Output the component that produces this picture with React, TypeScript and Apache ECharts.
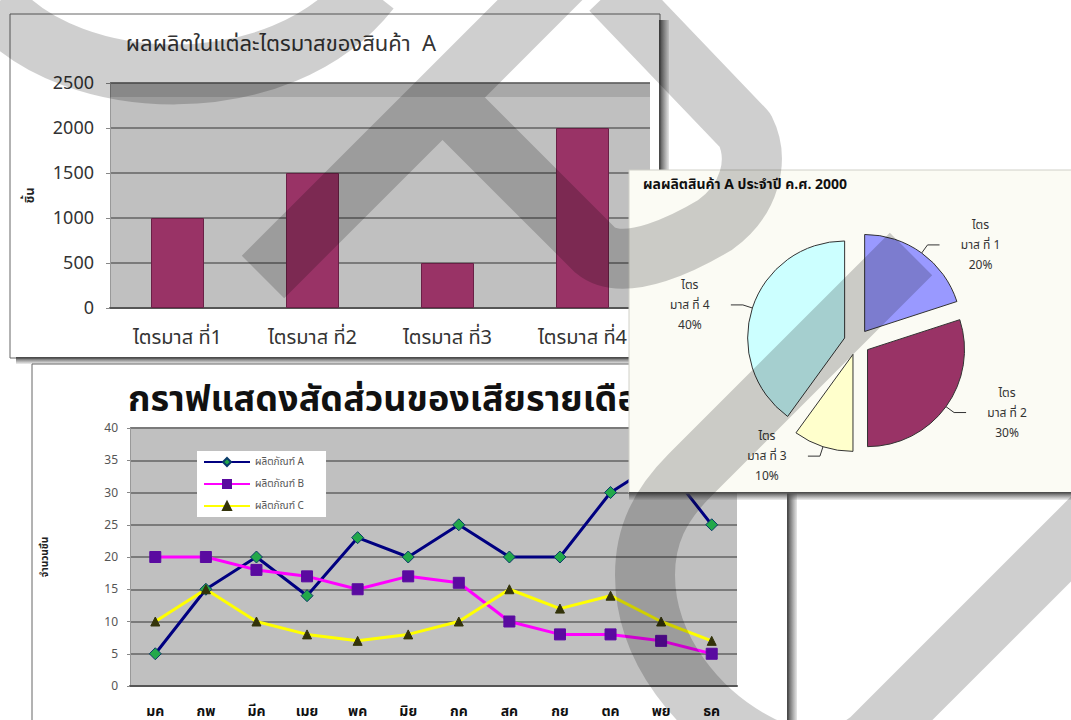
import { useEffect, useRef } from 'react';
import * as echarts from 'echarts';

// ---- data ----
const quarters = ['ไตรมาส ที่1', 'ไตรมาส ที่2', 'ไตรมาส ที่3', 'ไตรมาส ที่4'];
const production = [1000, 1500, 500, 2000];
const pieNames = ['ไตรมาส ที่ 1', 'ไตรมาส ที่ 2', 'ไตรมาส ที่ 3', 'ไตรมาส ที่ 4'];
const pieColors = ['#9999ff', '#993366', '#ffffcc', '#ccffff'];

const months = ['มค', 'กพ', 'มีค', 'เมย', 'พค', 'มิย', 'กค', 'สค', 'กย', 'ตค', 'พย', 'ธค'];
const productA = [5, 15, 20, 14, 23, 20, 25, 20, 20, 30, 35, 25];
const productB = [20, 20, 18, 17, 15, 17, 16, 10, 8, 8, 7, 5];
const productC = [10, 15, 10, 8, 7, 8, 10, 15, 12, 14, 10, 7];
const seriesNames = ['ผลิตภัณฑ์ A', 'ผลิตภัณฑ์ B', 'ผลิตภัณฑ์ C'];

const barTitle = 'ผลผลิตในแต่ละไตรมาสของสินค้า  A';
const lineTitle = 'กราฟแสดงสัดส่วนของเสียรายเดือน';
const pieTitle = 'ผลผลิตสินค้า A ประจำปี ค.ศ. 2000';

const FONT = "'Noto Sans Thai', Tahoma, 'DejaVu Sans', sans-serif";

const WATERMARK =
  'M -5 5 C 70 95 280 105 370 -10 ' +
  'M 263 277 L 590 -50 ' +
  'M 452 107 L 595 250 C 625 275 690 240 715 225 C 750 200 760 160 745 130 L 611 -10 ' +
  'M 911 254 L 690 475 C 660 505 645 535 645 575 C 645 650 700 715 760 745 C 800 765 830 770 870 740 L 1110 500';

export default function App() {
  const ref = useRef<HTMLDivElement>(null);
  useEffect(() => {
    if (!ref.current) return;
    try {
      echarts.graphic.registerShape('wm', echarts.graphic.extendPath(WATERMARK, {}));
    } catch (e) {
      /* ignore */
    }
    const chart = echarts.init(ref.current, null, { renderer: 'svg' });
    const shadowV = () =>
      new echarts.graphic.LinearGradient(0, 0, 1, 0, [
        { offset: 0, color: '#444' },
        { offset: 1, color: 'rgba(90,90,90,0.15)' },
      ]);
    const shadowH = () =>
      new echarts.graphic.LinearGradient(0, 0, 0, 1, [
        { offset: 0, color: '#444' },
        { offset: 1, color: 'rgba(90,90,90,0.1)' },
      ]);

    const option: any = {
      animation: false,
      backgroundColor: '#ffffff',
      textStyle: { fontFamily: FONT },
      legend: {
        data: seriesNames,
        left: 197,
        top: 451,
        orient: 'vertical',
        backgroundColor: '#ffffff',
        padding: [6, 22, 6, 6],
        itemGap: 12,
        itemWidth: 46,
        itemHeight: 10,
        textStyle: { fontSize: 10, color: '#555', fontFamily: FONT },
        z: 4,
      },
      grid: [
        {
          left: 110, top: 83, width: 540, height: 225,
          show: true, backgroundColor: '#c0c0c0', borderWidth: 0, z: 1,
        },
        {
          left: 130, top: 428, width: 607, height: 258,
          show: true, backgroundColor: '#c0c0c0', borderWidth: 0, z: 1,
        },
      ],
      xAxis: [
        {
          type: 'category', gridIndex: 0, data: quarters, z: 1,
          axisLine: { lineStyle: { color: '#555', width: 2 } },
          axisTick: { length: 5, lineStyle: { color: '#555' } },
          axisLabel: { fontSize: 20, color: '#333', margin: 20, fontFamily: FONT },
        },
        {
          type: 'category', gridIndex: 1, data: months, z: 1,
          axisLine: { lineStyle: { color: '#555', width: 2 } },
          axisTick: { length: 4, lineStyle: { color: '#555' } },
          axisLabel: { fontSize: 14, fontWeight: 'bold', color: '#111', margin: 18, fontFamily: FONT },
        },
      ],
      yAxis: [
        {
          type: 'value', gridIndex: 0, min: 0, max: 2500, interval: 500, z: 1,
          name: 'ชิ้น', nameLocation: 'middle', nameRotate: 90, nameGap: 74,
          nameTextStyle: { fontSize: 13, fontWeight: 'bold', color: '#222', fontFamily: FONT },
          axisLine: { show: true, lineStyle: { color: '#999' } },
          axisTick: { show: true, length: 4, lineStyle: { color: '#888' } },
          axisLabel: { fontSize: 18, color: '#333', margin: 16, formatter: (v: number) => String(v) },
          splitLine: { lineStyle: { color: '#7a7a7a', width: 2 } },
        },
        {
          type: 'value', gridIndex: 1, min: 0, max: 40, interval: 5, z: 1,
          name: 'จำนวนชิ้น', nameLocation: 'middle', nameRotate: 90, nameGap: 80,
          nameTextStyle: { fontSize: 10, fontWeight: 'bold', color: '#222', fontFamily: FONT },
          axisLine: { show: true, lineStyle: { color: '#999' } },
          axisTick: { show: true, length: 3, lineStyle: { color: '#888' } },
          axisLabel: { fontSize: 12, color: '#555', margin: 12 },
          splitLine: { lineStyle: { color: '#7a7a7a', width: 2 } },
        },
      ],
      series: [
        {
          type: 'bar', xAxisIndex: 0, yAxisIndex: 0, data: production, barWidth: 53, z: 2,
          itemStyle: { color: '#993366', borderColor: '#6a2046', borderWidth: 1 },
        },
        {
          name: seriesNames[0], type: 'line', xAxisIndex: 1, yAxisIndex: 1, data: productA, z: 3,
          symbol: 'diamond', symbolSize: 12,
          lineStyle: { color: '#000080', width: 3 },
          itemStyle: { color: '#22a84a', borderColor: '#0a3a6a', borderWidth: 1 },
        },
        {
          name: seriesNames[1], type: 'line', xAxisIndex: 1, yAxisIndex: 1, data: productB, z: 3,
          symbol: 'rect', symbolSize: 11,
          lineStyle: { color: '#ff00ff', width: 3 },
          itemStyle: { color: '#5a0aa0', borderColor: '#5a0aa0', borderWidth: 1 },
        },
        {
          name: seriesNames[2], type: 'line', xAxisIndex: 1, yAxisIndex: 1, data: productC, z: 3,
          symbol: 'triangle', symbolSize: 9,
          lineStyle: { color: '#ffff00', width: 3 },
          itemStyle: { color: '#33330a', borderColor: '#33330a', borderWidth: 1 },
        },
        {
          type: 'pie', z: 12,
          center: [857, 342], radius: 97,
          startAngle: 90, clockwise: true,
          selectedMode: 'multiple', selectedOffset: 13,
          data: production.map((v, i) => ({
            name: pieNames[i], value: v, selected: true,
            itemStyle: { color: pieColors[i] },
          })),
          itemStyle: { borderColor: '#333', borderWidth: 1 },
          emphasis: { disabled: true },
          label: {
            show: true, position: 'outside', color: '#333', fontFamily: FONT,
            formatter: (p: any) =>
              '{c|ไตร}\n{c|' + p.name.slice(3) + '}\n{c|' + Math.round(p.percent) + '%}',
            rich: {
              c: { width: 72, align: 'center', fontSize: 12, lineHeight: 20, color: '#333', fontFamily: FONT },
            },
          },
          labelLine: { show: true, length: 10, length2: 12, lineStyle: { color: '#333', width: 1 } },
        },
      ],
      graphic: [
        // bar chart panel
        { type: 'rect', z: -5, silent: true, shape: { x: 10, y: 14, width: 650, height: 344 }, style: { fill: '#fff', stroke: '#666', lineWidth: 1 } },
        { type: 'rect', z: -4, silent: true, shape: { x: 659, y: 20, width: 10, height: 344 }, style: { fill: shadowV() } },
        { type: 'rect', z: -4, silent: true, shape: { x: 16, y: 357, width: 650, height: 7 }, style: { fill: shadowH() } },
        { type: 'rect', z: 2, silent: true, shape: { x: 110, y: 83, width: 540, height: 14 }, style: { fill: 'rgba(0,0,0,0.12)' } },
        { type: 'text', z: 5, silent: true, x: 281, y: 44, style: { text: barTitle, font: `22px ${FONT}`, fill: '#333', textAlign: 'center', textVerticalAlign: 'middle' } },
        // line chart panel
        { type: 'rect', z: -5, silent: true, shape: { x: 32, y: 364, width: 756, height: 370 }, style: { fill: '#fff', stroke: '#666', lineWidth: 1 } },
        { type: 'rect', z: -4, silent: true, shape: { x: 787, y: 370, width: 10, height: 360 }, style: { fill: shadowV() } },
        { type: 'text', z: 5, silent: true, x: 128, y: 400, style: { text: lineTitle, font: `bold 36px ${FONT}`, fill: '#111', textAlign: 'left', textVerticalAlign: 'middle' } },
        // pie panel
        { type: 'rect', z: 10, silent: true, shape: { x: 629, y: 170, width: 450, height: 323 }, style: { fill: '#fbfbf4', stroke: '#d0d0c8', lineWidth: 1 } },
        { type: 'rect', z: 10, silent: true, shape: { x: 629, y: 492, width: 450, height: 8 }, style: { fill: shadowH() } },
        { type: 'text', z: 13, silent: true, x: 643, y: 184, style: { text: pieTitle, font: `bold 14px ${FONT}`, fill: '#111', textAlign: 'left', textVerticalAlign: 'middle' } },
        // watermark
        { type: 'wm', z: 100, silent: true, x: 0, y: 0, style: { fill: 'none', stroke: 'rgba(0,0,0,0.19)', lineWidth: 60, lineCap: 'butt', lineJoin: 'round' } },
      ],
    };
    chart.setOption(option);
    return () => chart.dispose();
  }, []);
  return <div ref={ref} style={{ position: 'fixed', left: 0, top: 0, width: 1071, height: 720 }} />;
}
